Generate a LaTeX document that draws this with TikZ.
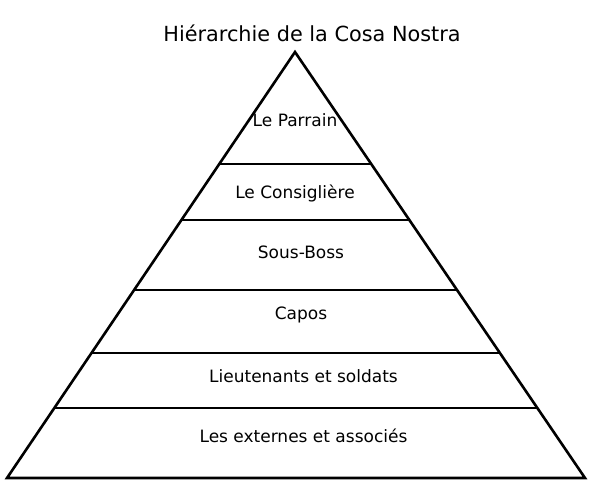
\documentclass[tikz,border=0pt]{standalone}
\usepackage{fontspec}
\setmainfont{DejaVu Sans}
\begin{document}
\begin{tikzpicture}[x=1pt,y=-1pt,
  side/.style={line width=2.6pt,line join=miter},
  tier/.style={line width=1.6pt},
  lbl/.style={anchor=base,inner sep=0pt,font=\fontsize{17}{19}\selectfont},
  ttl/.style={anchor=base,inner sep=0pt,font=\fontsize{20.8}{23}\selectfont}]
\useasboundingbox (0,0) rectangle (593,485);
\coordinate (apex) at (295,52);
\coordinate (bl) at (7,478);
\coordinate (br) at (585,478);
\foreach \t [count=\i] in {0.2629,0.3944,0.5587,0.7066,0.8357}{
  \path (apex) -- (bl) coordinate[pos=\t] (l\i);
  \path (apex) -- (br) coordinate[pos=\t] (r\i);
  \draw[tier] (l\i) -- (r\i);
}
\draw[side] (apex) -- (bl) -- (br) -- cycle;
\node[ttl] (title) at (312,41) {Hiérarchie de la Cosa Nostra};
\node[lbl] (parrain) at (295,126) {Le Parrain};
\node[lbl] (consig) at (295,198) {Le Consiglière};
\node[lbl] (sousboss) at (301,258) {Sous-Boss};
\node[lbl] (capos) at (301,319) {Capos};
\node[lbl] (lieut) at (303.5,382) {Lieutenants et soldats};
\node[lbl] (ext) at (303.5,442) {Les externes et associés};
\end{tikzpicture}
\end{document}
